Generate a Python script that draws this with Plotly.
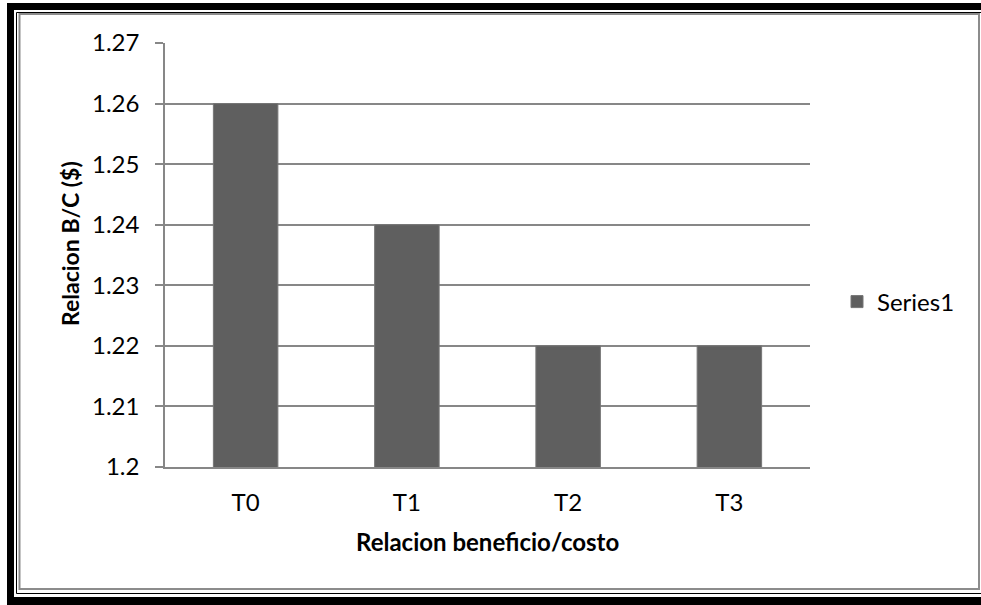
import plotly.graph_objects as go

# Benefit/cost ratio per treatment
categories = ["T0", "T1", "T2", "T3"]
bc_ratio = [1.26, 1.24, 1.22, 1.22]
series_name = "Series1"

y_ticks = [1.2, 1.21, 1.22, 1.23, 1.24, 1.25, 1.26, 1.27]
y_tick_labels = ["1.2", "1.21", "1.22", "1.23", "1.24", "1.25", "1.26", "1.27"]

W, H = 981, 605
L, R, T, B = 165, 810, 43, 467  # plot area in pixels

def px_x(x):
    return (x - L) / (R - L)

def px_y(y):
    return (B - y) / (B - T)

FONT = "Lato, 'Open Sans', sans-serif"
GRID = "#878787"
TICK_SIZE = 24

fig = go.Figure()
fig.add_trace(go.Bar(
    x=categories,
    y=bc_ratio,
    name=series_name,
    marker=dict(color="#5f5f5f", line=dict(color="#767676", width=1)),
    showlegend=True,
))

# Decorative frame around the chart area
shapes = []
def rect(x0, y0, x1, y1, **kw):
    shapes.append(dict(type="rect", xref="paper", yref="paper",
                       x0=px_x(x0), x1=px_x(x1), y0=px_y(y0), y1=px_y(y1), **kw))

black = dict(fillcolor="black", line=dict(width=0), layer="below")
rect(7, 3, 981, 10, **black)      # top band
rect(7, 3, 14, 605, **black)      # left band
rect(7, 597, 981, 605, **black)   # bottom band
rect(16.5, 12.5, 985, 593.5, line=dict(color="black", width=1), layer="below")
rect(19.5, 14, 979, 589, line=dict(color="#8c8c8c", width=2), layer="below")

fig.update_layout(
    width=W, height=H,
    margin=dict(l=L, r=W - R, t=T, b=H - B),
    paper_bgcolor="white",
    plot_bgcolor="white",
    bargap=0.6,
    font=dict(family=FONT, size=TICK_SIZE, color="black"),
    shapes=shapes,
    xaxis=dict(
        showgrid=False,
        showline=True, linecolor=GRID, linewidth=1.5,
        ticks="", ticklabelstandoff=13,
        tickfont=dict(family=FONT, size=TICK_SIZE, color="black"),
    ),
    yaxis=dict(
        range=[1.2, 1.27],
        tickvals=y_ticks, ticktext=y_tick_labels,
        showgrid=True, gridcolor=GRID, gridwidth=1.5,
        showline=True, linecolor=GRID, linewidth=1.5,
        ticks="outside", ticklen=8, tickcolor=GRID, tickwidth=1.5,
        ticklabelstandoff=11,
        tickfont=dict(family=FONT, size=TICK_SIZE, color="black"),
        zeroline=False,
    ),
    legend=dict(
        x=px_x(837), xanchor="left",
        y=px_y(302), yanchor="middle",
        font=dict(family=FONT, size=TICK_SIZE, color="black"),
        bgcolor="rgba(0,0,0,0)",
    ),
    annotations=[
        dict(text="<b>Relacion B/C ($)</b>", xref="paper", yref="paper",
             x=px_x(70), y=px_y(243), xanchor="center", yanchor="middle",
             textangle=-90, showarrow=False,
             font=dict(family=FONT, size=23, color="black")),
        dict(text="<b>Relacion beneficio/costo</b>", xref="paper", yref="paper",
             x=px_x(487.5), y=px_y(541), xanchor="center", yanchor="middle",
             showarrow=False,
             font=dict(family=FONT, size=24, color="black")),
    ],
)

fig.write_html("out.html")
